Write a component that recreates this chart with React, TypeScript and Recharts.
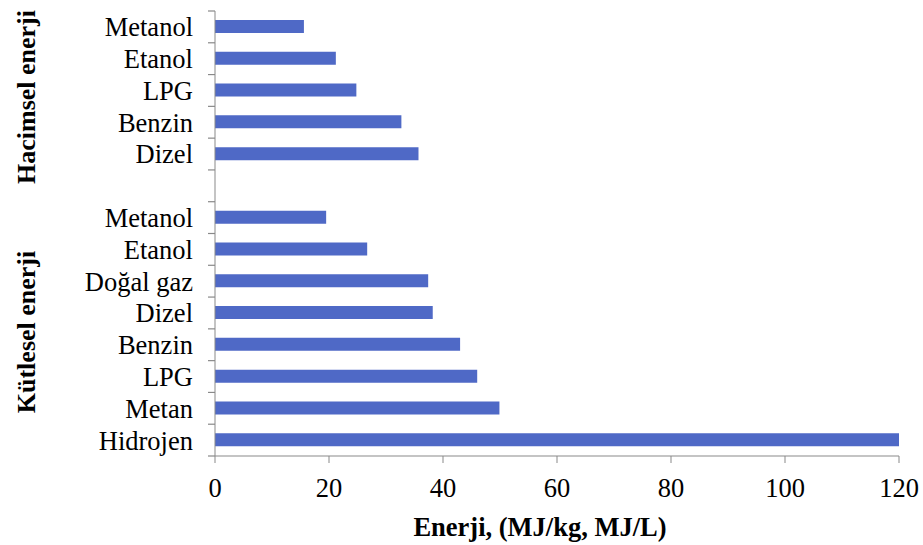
import { BarChart, Bar, XAxis, YAxis } from 'recharts'

// hacimsel (MJ/L) ve kütlesel (MJ/kg) enerji yoğunlukları, yukarıdan aşağıya
const hacimselAdlar = ['Metanol', 'Etanol', 'LPG', 'Benzin', 'Dizel']
const hacimselDegerler = [15.6, 21.2, 24.8, 32.7, 35.7]

const kutleselAdlar = ['Metanol', 'Etanol', 'Doğal gaz', 'Dizel', 'Benzin', 'LPG', 'Metan', 'Hidrojen']
const kutleselDegerler = [19.5, 26.7, 37.4, 38.2, 43.0, 46.0, 49.9, 120]

const xTicks = [0, 20, 40, 60, 80, 100, 120]

// iki grup arasında boş bir satır bırakılıyor
const rows = [
    ...hacimselAdlar.map((ad, i) => ({ ad, deger: hacimselDegerler[i] })),
    { ad: ' ', deger: null },
    ...kutleselAdlar.map((ad, i) => ({ ad, deger: kutleselDegerler[i] })),
]

const W = 923
const H = 545
const TOP = 11
const XAXIS_H = 89
const YAXIS_W = 215
const BAND = (H - TOP - XAXIS_H) / rows.length

const FONT = '"Liberation Serif", "Times New Roman", serif'
const AXIS = '#898989'
const BAR = '#4f69c6'

function KategoriTick(props: any) {
    const { x, y, payload, index } = props
    const ax = x + 22
    return (
        <g>
            <line x1={ax - 7} x2={ax} y1={y - BAND / 2} y2={y - BAND / 2} stroke={AXIS} strokeWidth={1.2} />
            {index === rows.length - 1 && (
                <line x1={ax - 7} x2={ax} y1={y + BAND / 2} y2={y + BAND / 2} stroke={AXIS} strokeWidth={1.2} />
            )}
            <text x={x} y={y} dy="0.355em" textAnchor="end" fontFamily={FONT} fontSize={26.5} fill="#000">
                {payload.value}
            </text>
        </g>
    )
}

export default function App() {
    return (
        <div style={{ position: 'absolute', left: 0, top: 0, width: W, height: H, background: '#fff' }}>
            <BarChart
                width={W}
                height={H}
                data={rows}
                layout="vertical"
                margin={{ top: TOP, right: 24, left: 0, bottom: 0 }}
            >
                <XAxis
                    type="number"
                    domain={[0, 120]}
                    ticks={xTicks}
                    height={XAXIS_H}
                    tickSize={7}
                    tickMargin={15}
                    stroke={AXIS}
                    tick={{ fill: '#000', fontFamily: FONT, fontSize: 26.5 }}
                    label={{
                        value: 'Enerji, (MJ/kg, MJ/L)',
                        position: 'insideBottom',
                        offset: 9,
                        dx: -17,
                        fill: '#000',
                        fontFamily: FONT,
                        fontSize: 26.5,
                        fontWeight: 'bold',
                    }}
                />
                <YAxis
                    type="category"
                    dataKey="ad"
                    width={YAXIS_W}
                    interval={0}
                    tickLine={false}
                    tickSize={7}
                    tickMargin={15}
                    stroke={AXIS}
                    tick={<KategoriTick />}
                />
                <Bar dataKey="deger" fill={BAR} barSize={13} isAnimationActive={false} />
            </BarChart>
            <svg
                width={60}
                height={H}
                style={{ position: 'absolute', left: 0, top: 0, pointerEvents: 'none' }}
            >
                <text
                    transform="translate(35,97) rotate(-90)"
                    textAnchor="middle"
                    fontFamily={FONT}
                    fontSize={26}
                    fontWeight="bold"
                    fill="#000"
                >
                    Hacimsel enerji
                </text>
                <text
                    transform="translate(35,332) rotate(-90)"
                    textAnchor="middle"
                    fontFamily={FONT}
                    fontSize={26}
                    fontWeight="bold"
                    fill="#000"
                >
                    Kütlesel enerji
                </text>
            </svg>
        </div>
    )
}
